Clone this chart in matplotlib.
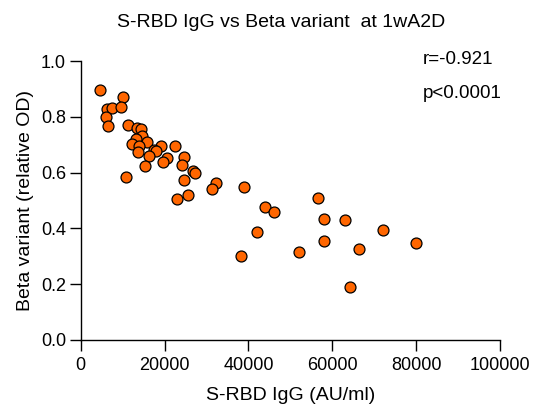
import matplotlib.pyplot as plt
import numpy as np

plt.rcParams['font.family'] = ['Liberation Sans', 'DejaVu Sans']

# S-RBD IgG (AU/ml) vs Beta variant relative OD
igg = [4600, 10000, 6300, 7400, 9600, 6000, 6400, 11400, 13400, 14400,
       14600, 13100, 15700, 12200, 13900, 19200, 22400, 13600, 17500, 18000,
       16400, 20600, 19600, 24700, 24200, 15400, 26900, 27200, 10700, 24700,
       32200, 31400, 38900, 22900, 25500, 56600, 43900, 46200, 58000, 42000,
       58000, 52100, 38200, 63100, 72100, 66400, 79900, 64200]
beta = [0.896, 0.871, 0.829, 0.830, 0.835, 0.800, 0.768, 0.772, 0.760, 0.756,
        0.732, 0.720, 0.708, 0.704, 0.694, 0.694, 0.694, 0.673, 0.680, 0.678,
        0.661, 0.651, 0.637, 0.656, 0.629, 0.624, 0.606, 0.600, 0.585, 0.574,
        0.563, 0.540, 0.548, 0.506, 0.518, 0.508, 0.475, 0.458, 0.433, 0.388,
        0.354, 0.314, 0.301, 0.430, 0.394, 0.326, 0.346, 0.191]

xticks = [0, 20000, 40000, 60000, 80000, 100000]
yticks = [0.0, 0.2, 0.4, 0.6, 0.8, 1.0]

fig = plt.figure(figsize=(5.35, 4.13), dpi=100)
ax = fig.add_axes([0.1508, 0.1768, 0.7838, 0.6755])

ax.scatter(igg, beta, s=62, c='#ff6600', edgecolors='black', linewidths=0.9,
           zorder=3, clip_on=False)

ax.set_xlim(0, 100000)
ax.set_ylim(0, 1.0)
ax.set_xticks(xticks)
ax.set_xticklabels([str(t) for t in xticks])
ax.set_yticks(yticks)
ax.set_yticklabels(['%.1f' % t for t in yticks])

for s in ['top', 'right']:
    ax.spines[s].set_visible(False)
for s in ['left', 'bottom']:
    ax.spines[s].set_linewidth(1.0)
ax.tick_params(direction='out', length=8, width=1.0, labelsize=13)
ax.tick_params(axis='x', pad=4)
ax.tick_params(axis='y', pad=2.5)

ax.set_xlabel('S-RBD IgG (AU/ml)', fontsize=14, va='baseline')
ax.xaxis.set_label_coords(0.5, -0.215)
ax.set_ylabel('Beta variant (relative OD)', fontsize=14, va='baseline')
ax.yaxis.set_label_coords(-0.121, 0.5)

fig.text(0.525, 0.9346, 'S-RBD IgG vs Beta variant  at 1wA2D', fontsize=14,
         ha='center', va='baseline')
ax.text(81600, 0.991, 'r=-0.921', fontsize=13.5, va='baseline')
ax.text(81600, 0.869, 'p<0.0001', fontsize=13.5, va='baseline')

fig.savefig('out.png', dpi=100)
